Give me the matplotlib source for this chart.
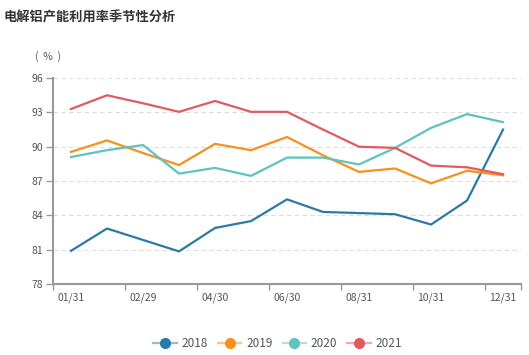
import numpy as np
import matplotlib
matplotlib.use('Agg')
import matplotlib.pyplot as plt
from matplotlib.lines import Line2D
from matplotlib.colors import to_rgba

plt.rcParams['font.family'] = ['Noto Sans CJK SC', 'DejaVu Sans']

# 分类和数据
dates = ['01/31', '02/28', '02/29', '03/31', '04/30', '05/31', '06/30',
         '07/31', '08/31', '09/30', '10/31', '11/30', '12/31']
y2018 = [80.9, 82.85, 81.85, 80.85, 82.9, 83.5, 85.4, 84.3, 84.2, 84.1, 83.2, 85.3, 91.5]
y2019 = [89.55, 90.55, 89.45, 88.4, 90.25, 89.7, 90.85, 89.25, 87.8, 88.1, 86.8, 87.9, 87.5]
y2020 = [89.1, 89.7, 90.15, 87.65, 88.15, 87.45, 89.05, 89.05, 88.45, 89.9, 91.65, 92.85, 92.15]
y2021 = [93.3, 94.5, 93.8, 93.05, 94.0, 93.05, 93.05, 91.5, 90.0, 89.9, 88.35, 88.2, 87.6]
series = [('2018', y2018, '#2a7aa6'), ('2019', y2019, '#f7901e'),
          ('2020', y2020, '#5ec3c0'), ('2021', y2021, '#e05b5f')]
yticks = [78, 81, 84, 87, 90, 93, 96]

fig = plt.figure(figsize=(5.29, 3.55), dpi=100)
ax = fig.add_axes([0.1002, 0.2, 0.8848, 0.58])

x = np.arange(len(dates))
handles = []
for name, vals, col in series:
    ax.plot(x, vals, color=col, lw=1.6, solid_joinstyle='round')
    # 图例：浅色线 + 实心圆点
    handles.append(Line2D([], [], color=to_rgba(col, 0.5), lw=1.6, marker='o',
                          markersize=7, markerfacecolor=col, markeredgecolor=col,
                          label=name))

ax.set_xlim(-0.5, len(dates) - 0.5)
ax.set_ylim(78, 96)
ax.set_yticks(yticks)
ax.grid(axis='y', color='#dddddd', linestyle=(0, (4, 3)), lw=0.8)
ax.set_axisbelow(True)

# x轴：标签在类目中间，刻度在类目边界
ax.set_xticks(x[::2])
ax.set_xticklabels(dates[::2])
ax.tick_params(axis='x', which='major', length=0, pad=6)
ax.set_xticks(list(np.arange(-0.5, len(dates), 2)) + [len(dates) - 0.5], minor=True)
ax.tick_params(axis='x', which='minor', length=4, width=1, color='#999999')
ax.tick_params(axis='y', length=5, width=1, color='#999999', pad=2)
ax.tick_params(labelsize=7.5, labelcolor='#555555')

for s in ['top', 'right']:
    ax.spines[s].set_visible(False)
for s in ['left', 'bottom']:
    ax.spines[s].set_color('#999999')
    ax.spines[s].set_linewidth(1.5)

fig.text(0.006, 0.972, '电解铝产能利用率季节性分析', fontsize=9.5, fontweight='bold',
         color='#333333', va='top', ha='left')
fig.text(0.066, 0.84, '(  %  )', fontsize=7.5, color='#555555', ha='left', va='center')

ax.legend(handles=handles, loc='upper center', bbox_to_anchor=(0.48, -0.205), ncol=4,
          frameon=False, fontsize=8.5, handlelength=2.0, columnspacing=0.85,
          handletextpad=0.4, labelcolor='#555555')
plt.savefig('out.png', dpi=100)
